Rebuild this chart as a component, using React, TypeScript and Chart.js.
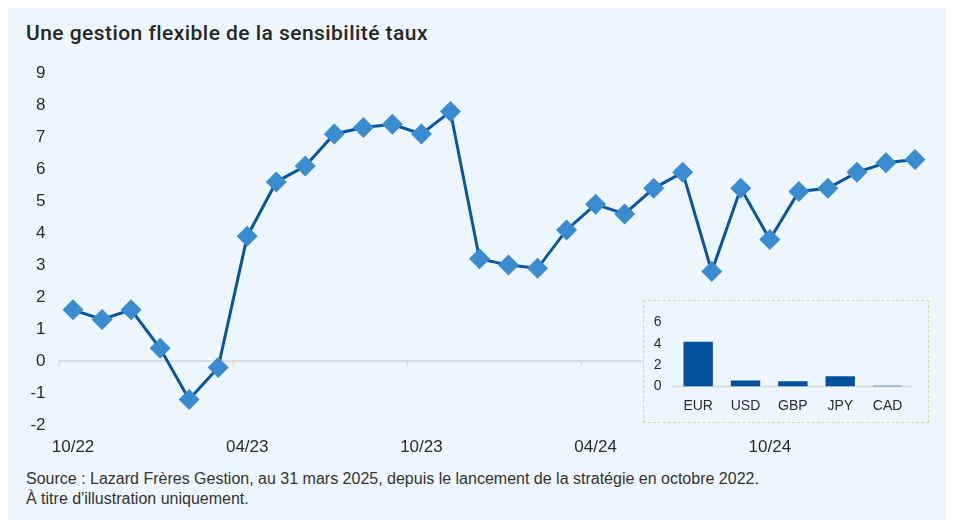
import React, { useEffect, useRef } from "react";
import { Chart, registerables } from "chart.js";

Chart.register(...registerables);

const months = [
  "10/22", "11/22", "12/22", "01/23", "02/23", "03/23", "04/23", "05/23", "06/23", "07/23",
  "08/23", "09/23", "10/23", "11/23", "12/23", "01/24", "02/24", "03/24", "04/24", "05/24",
  "06/24", "07/24", "08/24", "09/24", "10/24", "11/24", "12/24", "01/25", "02/25", "03/25",
];
const sensitivity = [
  1.6, 1.3, 1.6, 0.4, -1.2, -0.2, 3.9, 5.6, 6.1, 7.1,
  7.3, 7.4, 7.1, 7.8, 3.2, 3.0, 2.9, 4.1, 4.9, 4.6,
  5.4, 5.9, 2.8, 5.4, 3.8, 5.3, 5.4, 5.9, 6.2, 6.3,
];
const labelEvery = 6;
const yTicks = { min: -2, max: 9, step: 1 };

const currencies = ["EUR", "USD", "GBP", "JPY", "CAD"];
const currencyValues = [4.2, 0.55, 0.5, 0.97, 0.08];
const insetTicks = { min: 0, max: 6, step: 2 };

const FONT = "'Liberation Sans', Arial, Helvetica, sans-serif";
const BG = "#eef6fd";
const TEXT = "#2b2b2b";

const zeroLinePlugin = {
  id: "zeroLine",
  beforeDatasetsDraw(chart: any) {
    const { ctx, chartArea, scales } = chart;
    const y = scales.y.getPixelForValue(0);
    ctx.save();
    ctx.strokeStyle = "#dadde1";
    ctx.lineWidth = 2;
    ctx.beginPath();
    ctx.moveTo(chartArea.left, y);
    ctx.lineTo(chartArea.right, y);
    ctx.stroke();
    const xs = scales.x;
    const w = xs.getPixelForValue(1) - xs.getPixelForValue(0);
    ctx.lineWidth = 1.5;
    for (let i = 0; i < months.length; i += labelEvery) {
      const px = Math.round(xs.getPixelForValue(i) - w / 2) + 0.5;
      ctx.beginPath();
      ctx.moveTo(px, y);
      ctx.lineTo(px, y + 6);
      ctx.stroke();
    }
    ctx.restore();
  },
};

const insetBaselinePlugin = {
  id: "insetBaseline",
  beforeDatasetsDraw(chart: any) {
    const { ctx, chartArea, scales } = chart;
    const y = scales.y.getPixelForValue(0);
    ctx.save();
    ctx.strokeStyle = "#d3d8de";
    ctx.lineWidth = 1.5;
    ctx.beginPath();
    ctx.moveTo(chartArea.left - 2, y);
    ctx.lineTo(chartArea.right, y);
    ctx.stroke();
    ctx.restore();
  },
};

function MainChart() {
  const ref = useRef<HTMLCanvasElement | null>(null);
  useEffect(() => {
    if (!ref.current) return;
    const chart = new Chart(ref.current, {
      type: "line",
      data: {
        labels: months,
        datasets: [
          {
            data: sensitivity,
            borderColor: "#0a559b",
            borderWidth: 3,
            tension: 0,
            pointStyle: "rectRot",
            pointRadius: 10.5,
            pointHoverRadius: 10.5,
            pointBackgroundColor: "#3a8bcf",
            pointBorderColor: "#3a8bcf",
            pointBorderWidth: 0,
          },
        ],
      },
      options: {
        responsive: false,
        animation: false,
        events: [],
        layout: { padding: { top: 20.7, right: 16.5, left: 0, bottom: 0 } },
        plugins: { legend: { display: false }, tooltip: { enabled: false } },
        scales: {
          x: {
            type: "category",
            offset: true,
            grid: { display: false, drawTicks: false },
            border: { display: false },
            afterFit(scale: any) {
              scale.height = 35;
            },
            ticks: {
              autoSkip: false,
              maxRotation: 0,
              padding: 12,
              color: TEXT,
              font: { family: FONT, size: 17 },
              callback: (_v: any, i: number) => (i % labelEvery === 0 ? months[i] : ""),
            },
          },
          y: {
            min: yTicks.min,
            max: yTicks.max,
            grid: { display: false, drawTicks: false },
            border: { display: false },
            afterFit(scale: any) {
              scale.width = 50.5;
            },
            ticks: {
              stepSize: yTicks.step,
              padding: 13,
              color: TEXT,
              font: { family: FONT, size: 17 },
            },
          },
        },
      },
      plugins: [zeroLinePlugin],
    });
    return () => chart.destroy();
  }, []);
  return <canvas ref={ref} width={938} height={410} style={{ position: "absolute", left: 0, top: 44, display: "block" }} />;
}

function InsetChart() {
  const ref = useRef<HTMLCanvasElement | null>(null);
  useEffect(() => {
    if (!ref.current) return;
    const chart = new Chart(ref.current, {
      type: "bar",
      data: {
        labels: currencies,
        datasets: [
          {
            data: currencyValues,
            backgroundColor: "#03519a",
            barPercentage: 0.62,
            categoryPercentage: 1,
          },
        ],
      },
      options: {
        responsive: false,
        animation: false,
        events: [],
        layout: { padding: { top: 17.3, right: 16.75, left: 0, bottom: 0 } },
        plugins: { legend: { display: false }, tooltip: { enabled: false } },
        scales: {
          x: {
            grid: { display: false, drawTicks: false },
            border: { display: false },
            afterFit(scale: any) {
              scale.height = 35.5;
            },
            ticks: {
              padding: 11,
              color: TEXT,
              font: { family: FONT, size: 14 },
            },
          },
          y: {
            min: insetTicks.min,
            max: insetTicks.max,
            grid: { display: false, drawTicks: false },
            border: { display: false },
            afterFit(scale: any) {
              scale.width = 30.5;
            },
            ticks: {
              stepSize: insetTicks.step,
              padding: 13,
              color: TEXT,
              font: { family: FONT, size: 14 },
            },
          },
        },
      },
      plugins: [insetBaselinePlugin],
    });
    return () => chart.destroy();
  }, []);
  return <canvas ref={ref} width={284} height={121} style={{ display: "block" }} />;
}

export default function App() {
  return (
    <div
      style={{
        position: "relative",
        marginTop: -2,
        width: 938,
        height: 514,
        background: BG,
        fontFamily: FONT,
        color: TEXT,
      }}
    >
      <div
        style={{
          position: "absolute",
          left: 18,
          top: 15,
          fontFamily: "Roboto, 'Liberation Sans', Arial, sans-serif",
          fontSize: 21,
          fontWeight: 500,
          letterSpacing: "0.45px",
          lineHeight: "24px",
          color: "#262626",
          whiteSpace: "nowrap",
        }}
      >
        Une gestion flexible de la sensibilité taux
      </div>
      <MainChart />
      <div
        style={{
          position: "absolute",
          left: 635,
          top: 294,
          width: 284,
          height: 121,
          border: "1px dashed #c8e2ad",
          background: BG,
        }}
      >
        <InsetChart />
      </div>
      <div
        style={{
          position: "absolute",
          left: 18,
          top: 463,
          fontSize: 16,
          lineHeight: "20px",
          color: "#333",
          whiteSpace: "nowrap",
        }}
      >
        <div>Source : Lazard Frères Gestion, au 31 mars 2025, depuis le lancement de la stratégie en octobre 2022.</div>
        <div>À titre d'illustration uniquement.</div>
      </div>
    </div>
  );
}
